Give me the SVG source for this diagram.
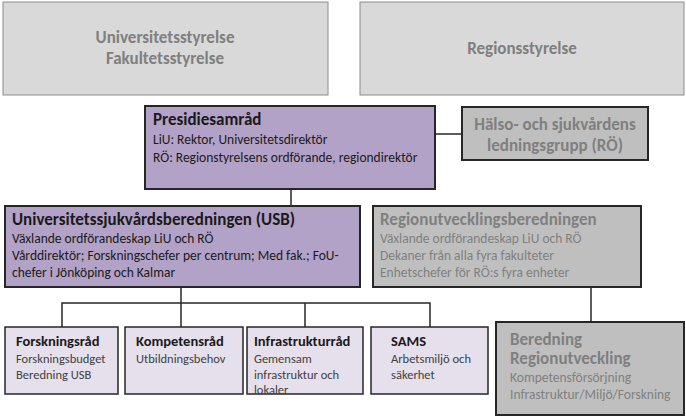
<svg xmlns="http://www.w3.org/2000/svg" width="686" height="417" viewBox="0 0 686 417">
<style>
text{font-family:Calibri,"Liberation Sans",Carlito,sans-serif}
.top{fill:#d9d9d9;stroke:#8c8c8c;stroke-width:1}
.pur{fill:#b3a2c7;stroke:#262626;stroke-width:2}
.gr{fill:#bfbfbf;stroke:#262626;stroke-width:2}
.lt{fill:#e6e0ec;stroke:#262626;stroke-width:1.5}
.h{font-weight:bold;font-size:17px;fill:#1a1a1a}
.s{font-size:13.5px;fill:#1a1a1a}
.gh{font-weight:bold;font-size:17px;fill:#7f7f7f}
.gs{font-size:13.5px;fill:#7f7f7f}
.sh{font-weight:bold;font-size:14.5px;fill:#1a1a1a}
.ss{font-size:12.5px;fill:#404040}
</style>
<g id="connectors" stroke="#262626" stroke-width="1.5" fill="none">
<line x1="291" y1="189" x2="291" y2="206"/>
<line x1="436" y1="134" x2="462" y2="134"/>
<polyline points="181,287 181,303"/>
<polyline points="62,327 62,303 430,303 430,327"/>
<line x1="181" y1="303" x2="181" y2="327"/>
<line x1="305" y1="303" x2="305" y2="327"/>
<line x1="591" y1="287" x2="591" y2="322"/>
</g>
<g id="univ"><rect class="top" x="3" y="2" width="325" height="93"/>
<text class="gh" x="165" y="43" text-anchor="middle">Universitetsstyrelse</text>
<text class="gh" x="165" y="64" text-anchor="middle">Fakultetsstyrelse</text></g>
<g id="region"><rect class="top" x="360" y="2" width="324" height="93"/>
<text class="gh" x="522" y="54" text-anchor="middle">Regionsstyrelse</text></g>
<g id="presidie"><rect class="pur" x="145" y="106" width="290" height="83"/>
<text class="h" x="153" y="125">Presidiesamråd</text>
<text class="s" x="153" y="144">LiU: Rektor, Universitetsdirektör</text>
<text class="s" x="153" y="162">RÖ: Regionstyrelsens ordförande, regiondirektör</text></g>
<g id="halso"><rect class="gr" x="462" y="107" width="186" height="53"/>
<text class="gh" x="555" y="130" text-anchor="middle">Hälso- och sjukvårdens</text>
<text class="gh" x="555" y="151" text-anchor="middle">ledningsgrupp (RÖ)</text></g>
<g id="usb"><rect class="pur" x="5" y="206" width="355" height="81"/>
<text class="h" x="12" y="225">Universitetssjukvårdsberedningen (USB)</text>
<text class="s" x="12" y="243">Växlande ordförandeskap LiU och RÖ</text>
<text class="s" x="12" y="260">Vårddirektör; Forskningschefer per centrum; Med fak.; FoU-</text>
<text class="s" x="12" y="277">chefer i Jönköping och Kalmar</text></g>
<g id="rub"><rect class="gr" x="373" y="206" width="268" height="81"/>
<text class="gh" x="380" y="225">Regionutvecklingsberedningen</text>
<text class="gs" x="380" y="243">Växlande ordförandeskap LiU och RÖ</text>
<text class="gs" x="380" y="260">Dekaner från alla fyra fakulteter</text>
<text class="gs" x="380" y="277">Enhetschefer för RÖ:s fyra enheter</text></g>
<g id="forsk"><rect class="lt" x="5" y="327" width="113" height="67"/>
<text class="sh" x="16" y="346">Forskningsråd</text>
<text class="ss" x="16" y="363">Forskningsbudget</text>
<text class="ss" x="16" y="379">Beredning USB</text></g>
<g id="komp"><rect class="lt" x="125" y="327" width="118" height="67"/>
<text class="sh" x="136" y="346">Kompetensråd</text>
<text class="ss" x="136" y="363">Utbildningsbehov</text></g>
<g id="infra"><rect class="lt" x="247" y="327" width="116" height="67"/>
<text class="sh" x="254" y="346">Infrastrukturråd</text>
<text class="ss" x="254" y="363">Gemensam</text>
<text class="ss" x="254" y="379">infrastruktur och</text>
<text class="ss" x="254" y="394">lokaler</text></g>
<g id="sams"><rect class="lt" x="371" y="327" width="117" height="67"/>
<text class="sh" x="391" y="346">SAMS</text>
<text class="ss" x="391" y="363">Arbetsmiljö och</text>
<text class="ss" x="391" y="379">säkerhet</text></g>
<g id="bered"><rect class="gr" x="496" y="322" width="188" height="93"/>
<text class="gh" x="510" y="345">Beredning</text>
<text class="gh" x="510" y="364">Regionutveckling</text>
<text class="gs" x="510" y="382">Kompetensförsörjning</text>
<text class="gs" x="510" y="399">Infrastruktur/Miljö/Forskning</text></g>
</svg>
